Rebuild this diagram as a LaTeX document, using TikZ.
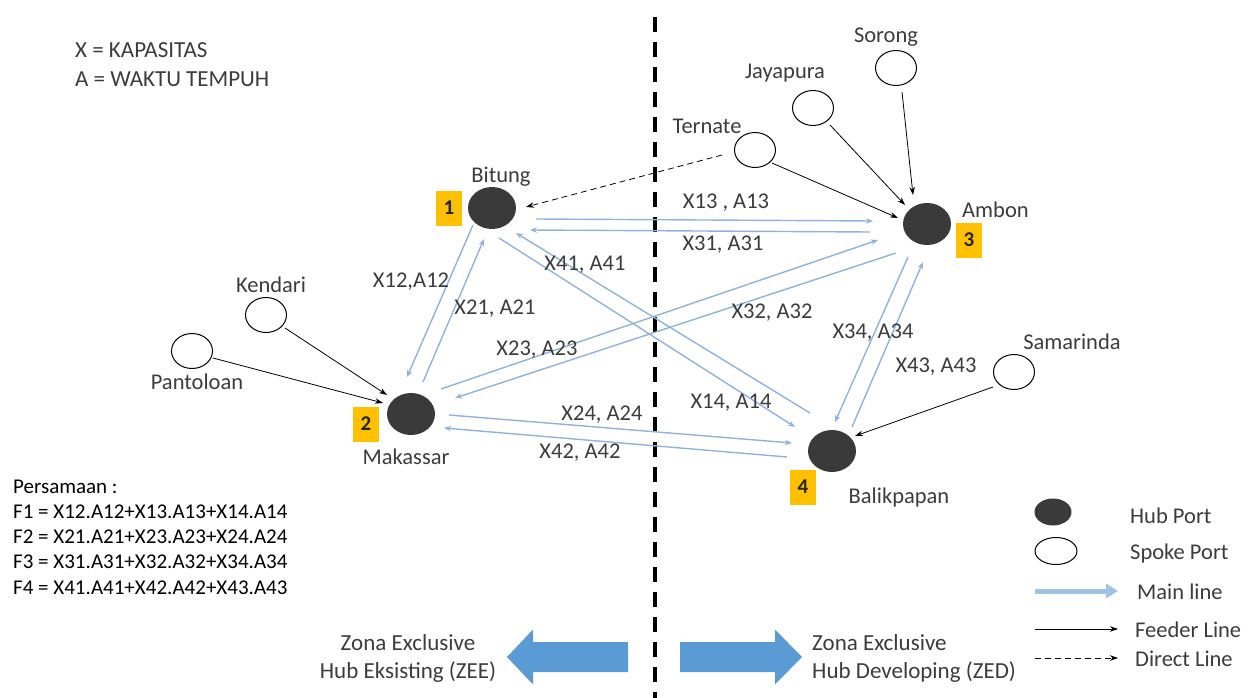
\documentclass[tikz,border=0pt]{standalone}
\usepackage{fontspec}
\setmainfont{Carlito}
\usetikzlibrary{arrows.meta,calc,shapes.geometric}

\definecolor{hubgray}{HTML}{3A3A3A}
\definecolor{mainblue}{HTML}{8FB3DD}
\definecolor{legendblue}{HTML}{9DC3E6}
\definecolor{zoneblue}{HTML}{5B9BD5}
\definecolor{tagyellow}{HTML}{FFC000}
\definecolor{txtgray}{HTML}{3C3C3C}

\begin{document}
\begin{tikzpicture}[x=1pt,y=-1pt,
  font=\fontsize{22.5}{27}\selectfont, text=txtgray,
  hub/.style={ellipse, fill=hubgray, minimum width=48pt, minimum height=42pt, inner sep=0},
  spoke/.style={ellipse, draw=black, line width=1pt, fill=white, minimum width=41pt, minimum height=35pt, inner sep=0},
  tag/.style={fill=tagyellow, minimum width=26pt, minimum height=35pt, inner sep=0,
              font=\fontsize{21}{24}\selectfont\bfseries, text=black!85},
  lbl/.style={inner sep=0},
  eqline/.style={inner sep=0, anchor=base west, text=black, font=\fontsize{21}{25}\selectfont},
  mainline/.style={draw=mainblue, line width=1.4pt, -{Stealth[length=7pt,width=5.5pt]}},
  feeder/.style={draw=black, line width=0.8pt, -{Stealth[length=8pt,width=5.5pt]}},
  direct/.style={feeder, dash pattern=on 6pt off 4pt},
]
\useasboundingbox (0,0) rectangle (1248,698);

% zone divider
\coordinate (divtop) at (655,17);
\coordinate (divbot) at (655,698);
\draw[line width=3.5pt, dash pattern=on 15pt off 10pt] (divtop) -- (divbot);

% key to the symbols X and A
\node[lbl, anchor=base west, font=\fontsize{23}{27}\selectfont] (keyx) at (75,58) {X = KAPASITAS};
\node[lbl, anchor=base west, font=\fontsize{23}{27}\selectfont] (keya) at (75,87) {A = WAKTU TEMPUH};

% hub ports
\node[hub] (bitung) at (492,208) {};
\node[hub] (ambon) at (927,224) {};
\node[hub] (makassar) at (411,414) {};
\node[hub] (balikpapan) at (832,451) {};

\node[lbl] (lbitung) at (501,177) {Bitung};
\node[lbl, anchor=west] (lambon) at (962,210) {Ambon};
\node[lbl] (lmakassar) at (406,457) {Makassar};
\node[lbl] (lbalikpapan) at (899,497) {Balikpapan};

\node[tag] (t1) at (449,208) {1};
\node[tag] (t2) at (366,424) {2};
\node[tag] (t3) at (969,240) {3};
\node[tag] (t4) at (803,487) {4};

% spoke ports
\node[spoke] (sorong) at (896,68) {};
\node[spoke] (jayapura) at (813,108) {};
\node[spoke] (ternate) at (755,150) {};
\node[spoke] (kendari) at (266,315) {};
\node[spoke] (pantoloan) at (192,351) {};
\node[spoke] (samarinda) at (1014,372) {};

\node[lbl] (lsorong) at (886,37) {Sorong};
\node[lbl] (ljayapura) at (785,73) {Jayapura};
\node[lbl] (lternate) at (707,126) {Ternate};
\node[lbl] (lkendari) at (271,285) {Kendari};
\node[lbl] (lpantoloan) at (197,382) {Pantoloan};
\node[lbl] (lsamarinda) at (1072,342) {Samarinda};

% main lines between hubs
\draw[mainline] ($(bitung)+(44,11)$) -- ($(ambon)+(-54,-3)$);
\draw[mainline] ($(ambon)+(-57,8)$) -- ($(bitung)+(38,22)$);
\draw[mainline] ($(bitung)+(-19,17)$) -- ($(makassar)+(-4,-37)$);
\draw[mainline] ($(makassar)+(12,-32)$) -- ($(bitung)+(-8,31)$);
\draw[mainline] ($(bitung)+(7,30)$) -- ($(balikpapan)+(-37,-24)$);
\draw[mainline] ($(balikpapan)+(-22,-38)$) -- ($(bitung)+(24,25)$);
\draw[mainline] ($(makassar)+(30,-25)$) -- ($(ambon)+(-49,16)$);
\draw[mainline] ($(ambon)+(-31,29)$) -- ($(makassar)+(44,-16)$);
\draw[mainline] ($(makassar)+(38,1)$) -- ($(balikpapan)+(-40,-8)$);
\draw[mainline] ($(balikpapan)+(-45,6)$) -- ($(makassar)+(33,14)$);
\draw[mainline] ($(ambon)+(-19,33)$) -- ($(balikpapan)+(3,-29)$);
\draw[mainline] ($(balikpapan)+(20,-24)$) -- ($(ambon)+(-4,38)$);

% capacity / travel-time labels
\node[lbl] (x13) at (726,203) {X13 , A13};
\node[lbl] (x31) at (723,245) {X31, A31};
\node[lbl] (x41) at (585,265) {X41, A41};
\node[lbl] (x12) at (411,282) {X12,A12};
\node[lbl] (x21) at (495,309) {X21, A21};
\node[lbl] (x32) at (772,313) {X32, A32};
\node[lbl] (x34) at (873,333) {X34, A34};
\node[lbl] (x23) at (537,350) {X23, A23};
\node[lbl] (x43) at (936,367) {X43, A43};
\node[lbl] (x14) at (731,403) {X14, A14};
\node[lbl] (x24) at (602,415) {X24, A24};
\node[lbl] (x42) at (580,453) {X42, A42};

% feeder lines from spokes to hubs
\draw[feeder] ($(sorong)+(6,24)$) -- ($(ambon)+(-14,-29)$);
\draw[feeder] ($(jayapura)+(17,17)$) -- ($(ambon)+(-22,-19)$);
\draw[feeder] ($(ternate)+(17,13)$) -- ($(ambon)+(-29,-6)$);
\draw[feeder] ($(kendari)+(19,13)$) -- ($(makassar)+(-24,-19)$);
\draw[feeder] ($(pantoloan)+(21,7)$) -- ($(makassar)+(-28,-11)$);
\draw[feeder] ($(samarinda)+(-21,15)$) -- ($(balikpapan)+(23,-15)$);

% direct line
\draw[direct] ($(ternate)+(-33,5)$) -- ($(bitung)+(34,-1)$);

% equations
\node[eqline] (eq0) at (13,493)   {Persamaan :};
\node[eqline] (eq1) at (13,518.3) {F1 = X12.A12+X13.A13+X14.A14};
\node[eqline] (eq2) at (13,543.6) {F2 = X21.A21+X23.A23+X24.A24};
\node[eqline] (eq3) at (13,568.9) {F3 = X31.A31+X32.A32+X34.A34};
\node[eqline] (eq4) at (13,594.2) {F4 = X41.A41+X42.A42+X43.A43};

% legend
\node[hub, minimum width=37pt, minimum height=27pt] (lghub) at (1053,512) {};
\node[spoke, minimum width=42pt, minimum height=27pt] (lgspoke) at (1056,551) {};
\node[lbl, anchor=west] (lghubt) at (1130,516) {Hub Port};
\node[lbl, anchor=west] (lgspoket) at (1130,553) {Spoke Port};

\coordinate (mlA) at (1035,591);
\coordinate (mlB) at (1118,591);
\coordinate (flA) at (1035,629);
\coordinate (flB) at (1118,629);
\coordinate (dlA) at (1035,658);
\coordinate (dlB) at (1118,658);
\draw[draw=legendblue, line width=5pt, -{Triangle[length=12pt,width=14pt]}] (mlA) -- (mlB);
\draw[feeder] (flA) -- (flB);
\draw[direct] (dlA) -- (dlB);
\node[lbl, anchor=west] (lgmain) at (1137,592) {Main line};
\node[lbl, anchor=west] (lgfeed) at (1135,630) {Feeder Line};
\node[lbl, anchor=west] (lgdirect) at (1135,659) {Direct Line};

% zone arrows
\fill[zoneblue] (507,657) -- (533,629.5) -- (533,642) -- (628,642) -- (628,672)
  -- (533,672) -- (533,684.5) -- cycle;
\fill[zoneblue] (680,642) -- (775,642) -- (775,629.5) -- (802,657) -- (775,684.5)
  -- (775,672) -- (680,672) -- cycle;
\node[lbl, anchor=base, font=\fontsize{23}{27}\selectfont] (zee1) at (408,650) {Zona Exclusive};
\node[lbl, anchor=base, font=\fontsize{23}{27}\selectfont] (zee2) at (408,678) {Hub Eksisting (ZEE)};
\node[lbl, anchor=base west, font=\fontsize{23}{27}\selectfont] (zed1) at (812,650) {Zona Exclusive};
\node[lbl, anchor=base west, font=\fontsize{23}{27}\selectfont] (zed2) at (812,678) {Hub Developing (ZED)};
\end{tikzpicture}
\end{document}
